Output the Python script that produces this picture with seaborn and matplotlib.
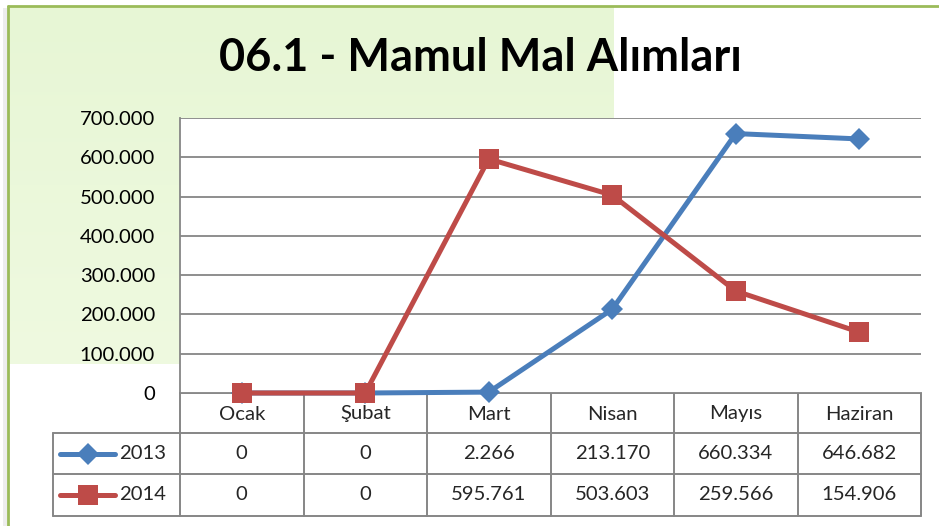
import numpy as np
import matplotlib
matplotlib.use("Agg")
import matplotlib.pyplot as plt
import seaborn as sns
from matplotlib.lines import Line2D
from matplotlib.patches import Rectangle

# ---- data ----
title = "06.1 - Mamul Mal Alımları"
months = ["Ocak", "Şubat", "Mart", "Nisan", "Mayıs", "Haziran"]
series_names = ["2013", "2014"]
values_2013 = [0, 0, 2266, 213170, 660334, 646682]
values_2014 = [0, 0, 595761, 503603, 259566, 154906]
labels_2013 = ["0", "0", "2.266", "213.170", "660.334", "646.682"]
labels_2014 = ["0", "0", "595.761", "503.603", "259.566", "154.906"]
yticks = [0, 100000, 200000, 300000, 400000, 500000, 600000, 700000]
ytick_labels = ["0", "100.000", "200.000", "300.000", "400.000", "500.000", "600.000", "700.000"]

BLUE = "#4A7EBB"
RED = "#BE4B48"
GRID = "#868686"
BORDER = "#9BBB59"

sns.set_theme(style="white")
plt.rcParams["font.family"] = ["Lato", "DejaVu Sans"]

W, H = 939, 526
fig = plt.figure(figsize=(W / 100, H / 100), dpi=100)
fig.patch.set_facecolor("white")

# background overlay axes in pixel coordinates
bg = fig.add_axes([0, 0, 1, 1], zorder=0)
bg.axis("off")

# green gradient region
grad = np.linspace(0, 1, 100).reshape(-1, 1)
c_top = np.array([0.906, 0.965, 0.835])
c_bot = np.array([0.937, 0.980, 0.878])
img = c_top + (c_bot - c_top) * grad[..., None]
img = img.repeat(2, axis=1)
bg.imshow(img, extent=[8, 614, 364, 6], aspect="auto", zorder=0)
bg.set_xlim(0, W)
bg.set_ylim(H, 0)
# left shadow
bg.add_patch(Rectangle((3, 8), 5, H, color="#EDEDED", zorder=0.5, lw=0))
# borders
bg.add_line(Line2D([8, W], [6, 6], color=BORDER, lw=2, zorder=1))
bg.add_line(Line2D([8, 8], [6, H], color=BORDER, lw=2, zorder=1))

# plot area geometry (pixels)
px0, px1 = 180, 921
py_top, py_zero = 118, 393
row_edges = [393, 433, 474, 516]
leg_x0 = 53
ncol = len(months)
colw = (px1 - px0) / ncol

# main axes
ax = fig.add_axes([px0 / W, 1 - py_zero / H, (px1 - px0) / W, (py_zero - py_top) / H], zorder=2)
ax.set_facecolor("white")

x = np.arange(ncol)
sns.lineplot(x=x, y=values_2013, ax=ax, color=BLUE, linewidth=3.6, marker="D",
             markersize=11.5, markeredgewidth=0, clip_on=False, zorder=3)
sns.lineplot(x=x, y=values_2014, ax=ax, color=RED, linewidth=3.6, marker="s",
             markersize=14.5, markeredgewidth=0, clip_on=False, zorder=4)

fs = 14.6
ax.set_xlim(-0.5, ncol - 0.5)
ax.set_ylim(0, 700000)
ax.set_yticks(yticks)
ax.set_yticklabels(ytick_labels, fontsize=fs, color="#000000")
ax.set_xticks([])
ax.tick_params(axis="y", length=0, pad=18)
ax.yaxis.grid(True, color=GRID, lw=1.3)
ax.xaxis.grid(False)
for s in ["top", "right", "bottom"]:
    ax.spines[s].set_visible(False)
ax.spines["left"].set_color(GRID)
ax.spines["left"].set_linewidth(1.3)
ax.set_xlabel("")
ax.set_ylabel("")

# title
fig.text(480 / W, 1 - 58 / H, title, ha="center", va="center",
         fontsize=32.5, fontweight="bold", color="black")

# ---- data table ----
lc = GRID
lw = 1.4
bg.add_line(Line2D([px0, px1], [row_edges[0], row_edges[0]], color=lc, lw=lw, zorder=1))
for yy in row_edges[1:]:
    bg.add_line(Line2D([leg_x0, px1], [yy, yy], color=lc, lw=lw, zorder=1))
for i in range(ncol + 1):
    xx = px0 + i * colw
    bg.add_line(Line2D([xx, xx], [row_edges[0], row_edges[-1]], color=lc, lw=lw, zorder=1))
bg.add_line(Line2D([leg_x0, leg_x0], [row_edges[1], row_edges[-1]], color=lc, lw=lw, zorder=1))

for i, m in enumerate(months):
    cx = px0 + (i + 0.5) * colw
    bg.text(cx, (row_edges[0] + row_edges[1]) / 2 + 1, m, ha="center", va="center", fontsize=fs, zorder=2)
    bg.text(cx, (row_edges[1] + row_edges[2]) / 2, labels_2013[i], ha="center", va="center", fontsize=fs, zorder=2)
    bg.text(cx, (row_edges[2] + row_edges[3]) / 2, labels_2014[i], ha="center", va="center", fontsize=fs, zorder=2)

# legend keys
for r, (name, col, mk, ms) in enumerate([(series_names[0], BLUE, "D", 11.5), (series_names[1], RED, "s", 14.5)]):
    yc = (row_edges[r + 1] + row_edges[r + 2]) / 2
    bg.add_line(Line2D([60, 115], [yc, yc], color=col, lw=3.6, solid_capstyle="round", zorder=2))
    bg.add_line(Line2D([87.5], [yc], marker=mk, markersize=ms, color=col, markeredgewidth=0, zorder=3))
    bg.text(119, yc, name, ha="left", va="center", fontsize=fs, zorder=2)

fig.savefig("out.png", dpi=100, facecolor=fig.get_facecolor())
